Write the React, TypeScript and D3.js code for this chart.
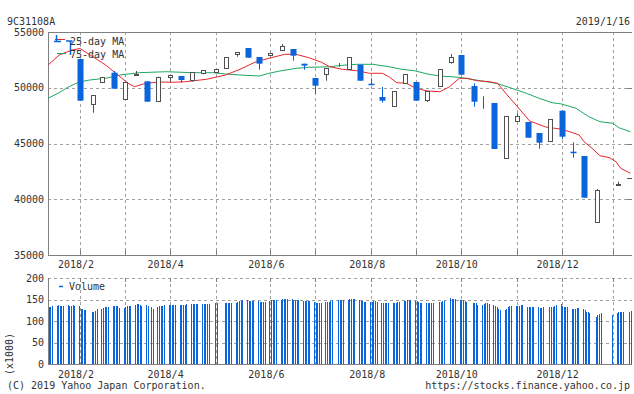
import React from "react";
import * as d3 from "d3";

const W = 634;
const H = 394;

// ---------- data ----------
const candleDates = [
  "2018-02-05", "2018-02-13", "2018-02-19", "2018-02-26", "2018-03-05", "2018-03-12", "2018-03-19", "2018-03-26",
  "2018-04-02", "2018-04-09", "2018-04-16", "2018-04-23", "2018-05-01", "2018-05-07", "2018-05-14", "2018-05-21",
  "2018-05-28", "2018-06-04", "2018-06-11", "2018-06-18", "2018-06-25", "2018-07-02", "2018-07-09", "2018-07-17",
  "2018-07-23", "2018-07-30", "2018-08-06", "2018-08-13", "2018-08-20", "2018-08-27", "2018-09-03", "2018-09-10",
  "2018-09-18", "2018-09-25", "2018-10-01", "2018-10-09", "2018-10-15", "2018-10-22", "2018-10-29", "2018-11-05",
  "2018-11-12", "2018-11-19", "2018-11-26", "2018-12-03", "2018-12-10", "2018-12-17", "2018-12-25", "2019-01-04",
  "2019-01-07",
];
const candleOpen = [
  52578, 48516, 50543, 51350, 49018, 51180, 50578, 48785, 50991, 51054, 50695, 51350, 51386, 51744, 53000, 53565,
  52758, 52910, 53359, 53475, 52157, 50874, 51206, 51880, 51655, 52067, 50360, 49170, 48363, 50453, 50516, 48874,
  50130, 52336, 52937, 50157, 48350, 48632, 43726, 46991, 46928, 45942, 45197, 47942, 44265, 43879, 37933, 39740,
  41251,
];
const candleHigh = [
  52578, 49323, 50937, 51502, 50516, 51500, 50578, 50991, 51144, 51054, 51386, 51565, 51682, 52758, 53179, 53565,
  52758, 53117, 53924, 53475, 52157, 50874, 51744, 52220, 52731, 52067, 50847, 50067, 49709, 51233, 50516, 49735,
  51655, 53027, 52937, 50399, 49233, 48632, 47440, 47709, 46928, 45942, 47197, 47942, 45108, 43879, 40919, 39760,
  41570,
];
const candleLow = [
  48839, 47762, 50426, 49915, 49018, 51170, 48749, 48785, 50543, 50453, 50543, 51206, 51386, 51744, 52785, 52695,
  51619, 52910, 53359, 52426, 51619, 49466, 50632, 51880, 51655, 50632, 50330, 48659, 48363, 50453, 48839, 48722,
  50130, 52157, 51170, 48300, 48121, 44507, 43726, 46991, 45520, 44534, 45197, 45377, 43726, 40139, 37933, 39740,
  41251,
];
const candleClose = [
  48839, 49323, 50937, 49915, 50516, 51210, 48749, 50991, 51144, 50695, 51386, 51565, 51682, 52758, 53179, 52695,
  52157, 53117, 53744, 52874, 51978, 50184, 51744, 51895, 52731, 50632, 50330, 48839, 49709, 51233, 48839, 49735,
  51655, 52731, 51170, 48749, 48370, 44507, 47440, 47440, 45520, 45072, 47197, 45610, 44240, 40139, 40830, 39760,
  41390,
];

const ma25Dates = [
  "2018-01-16", "2018-01-23", "2018-01-31", "2018-02-05", "2018-02-13", "2018-02-21", "2018-03-02", "2018-03-07",
  "2018-03-11", "2018-03-18", "2018-03-27", "2018-04-04", "2018-04-12", "2018-04-25", "2018-05-07", "2018-05-16",
  "2018-05-26", "2018-06-03", "2018-06-13", "2018-06-20", "2018-06-28", "2018-07-06", "2018-07-11", "2018-07-19",
  "2018-07-28", "2018-08-05", "2018-08-13", "2018-08-17", "2018-08-22", "2018-08-28", "2018-09-03", "2018-09-10",
  "2018-09-18", "2018-09-24", "2018-09-30", "2018-10-05", "2018-10-11", "2018-10-19", "2018-10-24", "2018-10-30",
  "2018-11-05", "2018-11-13", "2018-11-23", "2018-12-02", "2018-12-08", "2018-12-14", "2018-12-17", "2018-12-22",
  "2018-12-27", "2019-01-02", "2019-01-06", "2019-01-09", "2019-01-13", "2019-01-15",
];
const ma25Values = [
  52040, 52937, 53386, 53520, 52785, 52040, 50991, 50399, 50094, 50399, 50516, 50489, 50543, 50758, 51144, 51655,
  52336, 52641, 53000, 53000, 52695, 52282, 51888, 51655, 51529, 51296, 51296, 50991, 50453, 50399, 49951, 49709,
  49646, 50094, 50847, 50847, 50632, 50543, 50399, 49350, 48363, 47018, 46480, 46300, 46058, 45762, 45161, 44570,
  43906, 43727, 43368, 42776, 42471, 42328,
];

const ma75Dates = [
  "2018-01-16", "2018-01-23", "2018-01-29", "2018-02-05", "2018-02-11", "2018-02-21", "2018-03-02", "2018-03-14",
  "2018-03-31", "2018-04-16", "2018-04-29", "2018-05-07", "2018-05-16", "2018-05-28", "2018-06-03", "2018-06-10",
  "2018-06-20", "2018-06-28", "2018-07-11", "2018-07-19", "2018-07-28", "2018-08-07", "2018-08-17", "2018-08-25",
  "2018-09-02", "2018-09-11", "2018-09-18", "2018-09-30", "2018-10-13", "2018-10-23", "2018-10-30", "2018-11-05",
  "2018-11-11", "2018-11-19", "2018-11-27", "2018-12-03", "2018-12-12", "2018-12-20", "2018-12-27", "2019-01-04",
  "2019-01-08", "2019-01-15",
];
const ma75Values = [
  49054, 49556, 50094, 50543, 50695, 50847, 51144, 51350, 51440, 51350, 51350, 51233, 51144, 51054, 51296, 51502,
  51744, 51834, 51888, 52013, 52103, 52103, 51888, 51655, 51529, 51206, 51054, 50937, 50632, 50399, 50094, 49798,
  49502, 49054, 48659, 48543, 48157, 47404, 46955, 46812, 46400, 46058,
];

const latestPrice = 41900;

const holidays = [
  "2018-02-12", "2018-03-21", "2018-04-30", "2018-05-03", "2018-05-04", "2018-07-16", "2018-09-17", "2018-09-24",
  "2018-10-08", "2018-11-23", "2018-12-24", "2018-12-31", "2019-01-01", "2019-01-02", "2019-01-03", "2019-01-14",
];
const firstVolumeDay = "2018-01-17";
const lastVolumeDay = "2019-01-16";

// volume (x1000), one row per week, one value per trading day
const volumeWeeks: number[][] = [
  [132, 132, 135],
  [135, 137, 135, 135, 135],
  [137, 135, 135, 137, 136],
  [135, 129, 127, 126, 125],
  [122, 121, 123, 127],
  [129, 131, 132, 132, 132],
  [135, 135, 135, 135, 131],
  [131, 133, 136, 136, 136],
  [137, 139, 139, 138, 135],
  [137, 135, 133, 129],
  [132, 134, 135, 136, 137],
  [137, 137, 137, 137, 137],
  [137, 137, 137, 138, 139],
  [139, 139, 139, 139, 139],
  [139, 139, 139, 139, 139],
  [141, 141],
  [141, 141, 142, 143, 143],
  [143, 145, 147, 147, 148],
  [148, 147, 147, 147, 146],
  [146, 144, 145, 145, 145],
  [146, 148, 148, 148, 149],
  [149, 151, 151, 151, 151],
  [151, 150, 149, 149, 149],
  [147, 147, 147, 147, 147],
  [145, 143, 143, 141, 141],
  [145, 145, 145, 147, 149],
  [150, 149, 149, 149],
  [149, 151, 151, 151, 151],
  [149, 147, 146, 145, 145],
  [145, 145, 146, 146, 145],
  [141, 143, 143, 143, 143],
  [141, 142, 143, 145, 145],
  [147, 147, 149, 150, 150],
  [147, 147, 145, 143, 143],
  [141, 141, 142, 143, 143],
  [145, 145, 147, 147],
  [153, 151, 151, 151],
  [150, 149, 148, 147, 145],
  [143, 143, 141, 137],
  [137, 139, 141, 141, 139],
  [138, 135, 132, 127, 126],
  [125, 129, 133, 135, 135],
  [135, 135, 136, 137, 137],
  [133, 133, 133, 132, 133],
  [133, 130, 130, 132],
  [132, 132, 132, 134, 137],
  [139, 135, 133, 132, 132],
  [129, 127, 129, 131, 131],
  [127, 125, 121, 120, 118],
  [110, 114, 117, 118],
  [114],
  [119, 121, 122, 121, 121],
  [122, 124],
];

const priceTicks = [55000, 50000, 45000, 40000, 35000];
const volumeTicks = [200, 150, 100, 50, 0];
const labelMonths = [2, 4, 6, 8, 10, 12];

const headerCode = "9C31108A";
const headerDate = "2019/1/16";
const copyright = "(C) 2019 Yahoo Japan Corporation.";
const url = "https://stocks.finance.yahoo.co.jp";

// ---------- styles ----------
const FONT = "'DejaVu Sans Mono', 'Liberation Mono', monospace";
const TEXT = "#333";
const AXIS = "#808080";
const GRID = "#a0a0a0";
const BLUE = "#0a64dc";
const HOLLOW = "#505050";
const RED = "#e8262e";
const GREEN = "#1fa865";

const parse = d3.timeParse("%Y-%m-%d");
const fmt = d3.timeFormat("%Y-%m-%d");

export default function App() {
  const L = 48, R = 632;
  const pTop = 32, pBot = 255;
  const vTop = 278, vBot = 364;

  const x = d3.scaleTime().domain([new Date(2018, 0, 16), new Date(2019, 0, 16)]).range([L, R]);
  const yP = d3.scaleLinear().domain([35000, 55000]).range([pBot, pTop]);
  const yV = d3.scaleLinear().domain([0, 200]).range([vBot, vTop]);

  const candles = candleDates.map((d, i) => ({
    date: parse(d)!,
    o: candleOpen[i],
    h: candleHigh[i],
    l: candleLow[i],
    c: candleClose[i],
  }));

  // month grid: first candle of each month
  const monthGrid: Date[] = [];
  candles.forEach((c, i) => {
    if (i === 0 || c.date.getMonth() !== candles[i - 1].date.getMonth()) monthGrid.push(c.date);
  });

  // trading days for volume
  const hol = new Set(holidays);
  const days = d3
    .timeDay.range(parse(firstVolumeDay)!, d3.timeDay.offset(parse(lastVolumeDay)!, 1))
    .filter((d) => d.getDay() !== 0 && d.getDay() !== 6 && !hol.has(fmt(d)));
  const weeks = d3.groups(days, (d) => +d3.timeMonday.floor(d));
  const volume: { date: Date; v: number }[] = [];
  weeks.forEach(([, ds], wi) => {
    ds.forEach((d, j) => {
      const row = volumeWeeks[wi];
      if (row && row[j] !== undefined) volume.push({ date: d, v: row[j] });
    });
  });

  const line = d3
    .line<[Date, number]>()
    .x((d) => x(d[0]))
    .y((d) => yP(d[1]));
  const ma25 = line(ma25Dates.map((d, i) => [parse(d)!, ma25Values[i]] as [Date, number]));
  const ma75 = line(ma75Dates.map((d, i) => [parse(d)!, ma75Values[i]] as [Date, number]));

  const px = (v: number) => Math.round(v) + 0.5;

  return (
    <div style={{ position: "fixed", left: 0, top: 0, width: W, height: H, background: "#fff" }}>
      <svg width={W} height={H} style={{ display: "block" }} fontFamily={FONT} fontSize={10}>
        <rect x={0} y={0} width={W} height={H} fill="#fff" />
        {/* header */}
        <text x={7} y={25} fill={TEXT}>{headerCode}</text>
        <text x={630} y={25} fill={TEXT} textAnchor="end">{headerDate}</text>

        {/* ===== price panel ===== */}
        {priceTicks.map((t) => (
          <g key={"pt" + t}>
            {t !== 55000 && t !== 35000 && (
              <line x1={L} x2={R} y1={px(yP(t))} y2={px(yP(t))} stroke={GRID} strokeDasharray="3,3" />
            )}
            <line x1={R - 5} x2={R} y1={px(yP(t))} y2={px(yP(t))} stroke={AXIS} />
            <text x={44} y={yP(t) + 3.5} fill={TEXT} textAnchor="end">{t}</text>
          </g>
        ))}
        {monthGrid.map((d, i) => (
          <g key={"pg" + i}>
            <line x1={px(x(d))} x2={px(x(d))} y1={pTop} y2={pBot} stroke={GRID} strokeDasharray="3,3" />
            <line x1={px(x(d))} x2={px(x(d))} y1={pBot - 5} y2={pBot} stroke={AXIS} />
          </g>
        ))}
        <line x1={L} x2={R} y1={px(pTop)} y2={px(pTop)} stroke={AXIS} />
        <line x1={L} x2={R} y1={px(pBot)} y2={px(pBot)} stroke={AXIS} />
        <line x1={px(L)} x2={px(L)} y1={pTop} y2={pBot} stroke={AXIS} />

        {/* moving averages */}
        <path d={ma75 || ""} fill="none" stroke={GREEN} strokeWidth={1} />
        <path d={ma25 || ""} fill="none" stroke={RED} strokeWidth={1} />

        {/* candles */}
        {candles.map((c, i) => {
          const cx = px(x(c.date));
          const up = c.c >= c.o;
          const top = yP(Math.max(c.o, c.c));
          const bot = yP(Math.min(c.o, c.c));
          const col = up ? HOLLOW : BLUE;
          return (
            <g key={"c" + i}>
              <line x1={cx} x2={cx} y1={yP(c.h)} y2={yP(c.l)} stroke={col} />
              {up ? (
                <rect x={cx - 2} y={Math.round(top) + 0.5} width={4} height={Math.max(0, Math.round(bot) - Math.round(top))} fill="#fff" stroke={HOLLOW} />
              ) : (
                <rect x={cx - 3} y={top} width={6} height={Math.max(1.5, bot - top)} fill={BLUE} />
              )}
            </g>
          );
        })}
        {/* latest price marker */}
        <line x1={627} x2={R} y1={px(yP(latestPrice))} y2={px(yP(latestPrice))} stroke={HOLLOW} />

        {/* legend */}
        <line x1={55} x2={65} y1={39.5} y2={39.5} stroke={RED} />
        <line x1={57} x2={66} y1={53.5} y2={53.5} stroke={GREEN} />
        <path d="M56.5,35 V41 M54,41.5 H61" stroke={BLUE} strokeWidth={1.5} fill="none" />
        <path d="M66,41 H72.5 M70.5,41 V55" stroke={BLUE} strokeWidth={1.5} fill="none" />
        <text x={70} y={45} fill={TEXT}>25-day MA</text>
        <text x={70} y={57.5} fill={TEXT}>75-day MA</text>

        {/* x labels price panel */}
        {monthGrid
          .filter((d) => labelMonths.includes(d.getMonth() + 1) && d.getFullYear() === 2018)
          .map((d, i) => (
            <text key={"xl" + i} x={x(d) - 4} y={268} fill={TEXT} textAnchor="middle">
              {`${d.getFullYear()}/${d.getMonth() + 1}`}
            </text>
          ))}

        {/* ===== volume panel ===== */}
        {volumeTicks.map((t) => (
          <g key={"vt" + t}>
            {t !== 0 && (
              <line x1={L} x2={R} y1={px(yV(t))} y2={px(yV(t))} stroke={GRID} strokeDasharray="3,3" />
            )}
            <text x={44} y={yV(t) + 3.5} fill={TEXT} textAnchor="end">{t}</text>
          </g>
        ))}
        {monthGrid.map((d, i) => (
          <g key={"vg" + i}>
            <line x1={px(x(d))} x2={px(x(d))} y1={vTop} y2={vBot} stroke={GRID} strokeDasharray="3,3" />
            <line x1={px(x(d))} x2={px(x(d))} y1={vTop} y2={vTop + 4} stroke={AXIS} />
          </g>
        ))}
        {volume.map((d, i) => (
          <rect
            key={"v" + i}
            x={Math.floor(x(d.date) - 0.5)}
            y={Math.round(yV(d.v))}
            width={1}
            height={vBot - Math.round(yV(d.v))}
            fill={BLUE}
            shapeRendering="crispEdges"
          />
        ))}
        <line x1={L} x2={R} y1={px(vBot)} y2={px(vBot)} stroke={AXIS} />
        <line x1={px(L)} x2={px(L)} y1={vTop} y2={vBot} stroke={AXIS} />
        {/* volume legend */}
        <line x1={59} x2={63} y1={286.5} y2={286.5} stroke={BLUE} strokeWidth={1.5} />
        <text x={69} y={290} fill={TEXT}>Volume</text>
        <text transform="translate(13,354) rotate(-90)" fill={TEXT} textAnchor="middle">(x1000)</text>

        {monthGrid
          .filter((d) => labelMonths.includes(d.getMonth() + 1) && d.getFullYear() === 2018)
          .map((d, i) => (
            <text key={"vxl" + i} x={x(d) - 4} y={378} fill={TEXT} textAnchor="middle">
              {`${d.getFullYear()}/${d.getMonth() + 1}`}
            </text>
          ))}

        {/* footer */}
        <text x={7} y={389} fill={TEXT}>{copyright}</text>
        <text x={630} y={389} fill={TEXT} textAnchor="end">{url}</text>
      </svg>
    </div>
  );
}
